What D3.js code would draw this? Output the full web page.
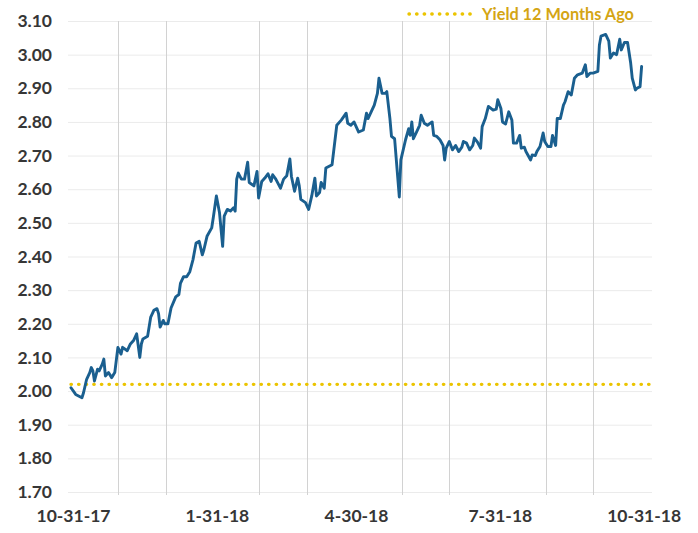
<!DOCTYPE html>
<html>
<head>
<meta charset="utf-8">
<script src="https://cdn.jsdelivr.net/npm/d3@7"></script>
<style>
  html, body { margin: 0; padding: 0; background: #ffffff; }
  svg { display: block; }
  text { font-family: Lato, "Open Sans", sans-serif; font-weight: 700; }
</style>
</head>
<body>
<svg id="chart" width="698" height="533"></svg>
<script>
// Daily yield observations, 10-31-17 through 10-31-18
const dates = [
  "2017-10-31","2017-11-03","2017-11-07","2017-11-08","2017-11-10","2017-11-12","2017-11-13","2017-11-14",
  "2017-11-15","2017-11-17","2017-11-18","2017-11-20","2017-11-21","2017-11-22","2017-11-24","2017-11-26",
  "2017-11-28","2017-11-30","2017-12-02","2017-12-03","2017-12-06","2017-12-08","2017-12-10","2017-12-12",
  "2017-12-14","2017-12-15","2017-12-16","2017-12-19","2017-12-21","2017-12-23","2017-12-25","2017-12-26",
  "2017-12-27","2017-12-29","2017-12-30","2018-01-01","2018-01-03","2018-01-06","2018-01-08","2018-01-09",
  "2018-01-11","2018-01-13","2018-01-15","2018-01-17","2018-01-19","2018-01-21","2018-01-23","2018-01-24",
  "2018-01-26","2018-01-29","2018-01-30","2018-02-01","2018-02-03","2018-02-05","2018-02-06","2018-02-08",
  "2018-02-10","2018-02-12","2018-02-13","2018-02-14","2018-02-15","2018-02-17","2018-02-19","2018-02-21",
  "2018-02-22","2018-02-25","2018-02-27","2018-02-28","2018-03-02","2018-03-04","2018-03-06","2018-03-08",
  "2018-03-09","2018-03-11","2018-03-14","2018-03-16","2018-03-18","2018-03-20","2018-03-21","2018-03-23",
  "2018-03-25","2018-03-26","2018-03-27","2018-03-30","2018-04-01","2018-04-03","2018-04-05","2018-04-06",
  "2018-04-08","2018-04-09","2018-04-11","2018-04-12","2018-04-16","2018-04-19","2018-04-22","2018-04-25",
  "2018-04-26","2018-04-28","2018-04-30","2018-05-03","2018-05-06","2018-05-08","2018-05-09","2018-05-11",
  "2018-05-13","2018-05-15","2018-05-16","2018-05-18","2018-05-20","2018-05-21","2018-05-23","2018-05-24",
  "2018-05-26","2018-05-29","2018-05-30","2018-06-02","2018-06-04","2018-06-05","2018-06-06","2018-06-07",
  "2018-06-09","2018-06-11","2018-06-12","2018-06-14","2018-06-16","2018-06-19","2018-06-20","2018-06-22",
  "2018-06-24","2018-06-26","2018-06-27","2018-06-28","2018-06-30","2018-07-02","2018-07-04","2018-07-06",
  "2018-07-08","2018-07-09","2018-07-11","2018-07-13","2018-07-15","2018-07-16","2018-07-18","2018-07-20",
  "2018-07-21","2018-07-23","2018-07-25","2018-07-28","2018-07-30","2018-07-31","2018-08-02","2018-08-03",
  "2018-08-05","2018-08-07","2018-08-09","2018-08-10","2018-08-12","2018-08-14","2018-08-15","2018-08-17",
  "2018-08-18","2018-08-21","2018-08-22","2018-08-24","2018-08-25","2018-08-27","2018-08-29","2018-08-30",
  "2018-09-01","2018-09-03","2018-09-04","2018-09-06","2018-09-07","2018-09-09","2018-09-11","2018-09-12",
  "2018-09-14","2018-09-16","2018-09-18","2018-09-20","2018-09-23","2018-09-25","2018-09-26","2018-09-28",
  "2018-09-30","2018-10-03","2018-10-04","2018-10-05","2018-10-08","2018-10-10","2018-10-11","2018-10-13",
  "2018-10-15","2018-10-17","2018-10-18","2018-10-20","2018-10-22","2018-10-24","2018-10-25","2018-10-27",
  "2018-10-28","2018-10-30","2018-10-31"
];

const yields = [
  2.01, 1.99, 1.98, 1.995, 2.035, 2.055, 2.07, 2.06,
  2.03, 2.065, 2.06, 2.08, 2.095, 2.045, 2.055, 2.04,
  2.055, 2.13, 2.11, 2.13, 2.12, 2.14, 2.15, 2.17,
  2.10, 2.14, 2.155, 2.163, 2.22, 2.24, 2.245, 2.23,
  2.19, 2.21, 2.20, 2.20, 2.247, 2.28, 2.287, 2.32,
  2.34, 2.34, 2.355, 2.39, 2.44, 2.445, 2.405, 2.42,
  2.46, 2.485, 2.515, 2.58, 2.53, 2.43, 2.52, 2.54,
  2.535, 2.545, 2.535, 2.63, 2.648, 2.63, 2.63, 2.68,
  2.62, 2.61, 2.653, 2.574, 2.623, 2.633, 2.646, 2.623,
  2.643, 2.63, 2.603, 2.63, 2.64, 2.69, 2.638, 2.594,
  2.633, 2.61, 2.57, 2.56, 2.54, 2.58, 2.633, 2.58,
  2.59, 2.62, 2.603, 2.663, 2.673, 2.79, 2.806, 2.826,
  2.796, 2.79, 2.80, 2.77, 2.776, 2.826, 2.81, 2.83,
  2.85, 2.885, 2.93, 2.885, 2.885, 2.89, 2.81, 2.757,
  2.75, 2.577, 2.687, 2.747, 2.78, 2.76, 2.80, 2.75,
  2.77, 2.79, 2.82, 2.796, 2.79, 2.80, 2.76, 2.757,
  2.747, 2.73, 2.687, 2.722, 2.742, 2.717, 2.73, 2.712,
  2.725, 2.742, 2.737, 2.717, 2.73, 2.752, 2.74, 2.722,
  2.786, 2.81, 2.846, 2.835, 2.838, 2.866, 2.84, 2.80,
  2.794, 2.83, 2.806, 2.737, 2.737, 2.76, 2.722, 2.725,
  2.712, 2.687, 2.702, 2.70, 2.712, 2.727, 2.767, 2.742,
  2.727, 2.727, 2.76, 2.73, 2.81, 2.81, 2.85, 2.86,
  2.89, 2.88, 2.93, 2.94, 2.945, 2.97, 2.935, 2.945,
  2.945, 2.95, 3.029, 3.055, 3.06, 3.04, 2.99, 3.005,
  3.00, 3.046, 3.014, 3.036, 3.036, 2.975, 2.93, 2.895,
  2.90, 2.905, 2.965
];

// Yield one year earlier, shown as a flat reference line
const refYield = 2.02;
const refLabel = "Yield 12 Months Ago";

// Axis ticks
const yTicks = [1.70, 1.80, 1.90, 2.00, 2.10, 2.20, 2.30, 2.40, 2.50, 2.60, 2.70, 2.80, 2.90, 3.00, 3.10];
const xTickDates = ["2017-10-31", "2018-01-31", "2018-04-30", "2018-07-31", "2018-10-31"];
// Month-end gridlines between the labelled quarter ends
const gridDates = ["2017-11-30", "2017-12-31", "2018-02-28", "2018-03-31",
                   "2018-05-31", "2018-06-30", "2018-08-31", "2018-09-30"];
const xDomain = ["2017-10-31", "2018-11-06"];

const parse = d3.timeParse("%Y-%m-%d");
const fmt = d3.timeFormat("%-m-%d-%y");
const series = dates.map((d, i) => ({ date: parse(d), value: yields[i] }));

const svg = d3.select("#chart");

const x = d3.scaleTime()
  .domain(xDomain.map(parse))
  .range([71, 651]);

const y = d3.scaleLinear()
  .domain([1.70, 3.10])
  .range([492, 21]);

// Horizontal gridlines
svg.append("g")
  .selectAll("line")
  .data(yTicks)
  .join("line")
  .attr("x1", x.range()[0] - 3)
  .attr("x2", x.range()[1] + 1)
  .attr("y1", d => y(d) + 0.5)
  .attr("y2", d => y(d) + 0.5)
  .attr("stroke", "#ebebeb")
  .attr("stroke-width", 1);

// Vertical month-end gridlines
svg.append("g")
  .selectAll("line")
  .data(gridDates.map(parse))
  .join("line")
  .attr("x1", d => Math.round(x(d)) + 0.5)
  .attr("x2", d => Math.round(x(d)) + 0.5)
  .attr("y1", y(3.10))
  .attr("y2", y(1.70) + 3)
  .attr("stroke", "#d2d2d2")
  .attr("stroke-width", 1);

// Y axis labels
const yAxis = d3.axisLeft(y)
  .tickValues(yTicks)
  .tickFormat(d3.format(".2f"))
  .tickSize(0)
  .tickPadding(0);

svg.append("g")
  .attr("transform", "translate(52,0)")
  .call(yAxis)
  .call(g => g.select(".domain").remove())
  .selectAll("text")
  .attr("font-size", 17.5)
  .attr("font-family", "Lato, 'Open Sans', sans-serif")
  .attr("font-weight", 700)
  .attr("fill", "#363636");

// X axis labels
const xAxis = d3.axisBottom(x)
  .tickValues(xTickDates.map(parse))
  .tickFormat(fmt)
  .tickSize(0)
  .tickPadding(0);

svg.append("g")
  .attr("transform", "translate(2,510)")
  .call(xAxis)
  .call(g => g.select(".domain").remove())
  .selectAll("text")
  .attr("font-size", 17.5)
  .attr("font-family", "Lato, 'Open Sans', sans-serif")
  .attr("font-weight", 700)
  .attr("fill", "#363636");

// Reference line: yield 12 months ago
const refColor = "#EBC400";
svg.append("line")
  .attr("x1", x.range()[0])
  .attr("x2", x.range()[1])
  .attr("y1", y(refYield))
  .attr("y2", y(refYield))
  .attr("stroke", refColor)
  .attr("stroke-width", 3.4)
  .attr("stroke-linecap", "round")
  .attr("stroke-dasharray", "0.4 7.2");

// Yield series
const line = d3.line()
  .x(d => x(d.date))
  .y(d => y(d.value));

svg.append("path")
  .datum(series)
  .attr("fill", "none")
  .attr("stroke", "#1A5F8F")
  .attr("stroke-width", 2.9)
  .attr("stroke-linejoin", "round")
  .attr("stroke-linecap", "round")
  .attr("d", line);

// Legend
const legend = svg.append("g").attr("transform", "translate(408,14)");
legend.append("line")
  .attr("x1", 1).attr("x2", 67)
  .attr("y1", 0).attr("y2", 0)
  .attr("stroke", refColor)
  .attr("stroke-width", 3.4)
  .attr("stroke-linecap", "round")
  .attr("stroke-dasharray", "0.4 7.2");
legend.append("text")
  .attr("x", 74)
  .attr("y", 6)
  .attr("font-size", 16.3)
  .attr("fill", "#D4A514")
  .text(refLabel);
</script>
</body>
</html>
